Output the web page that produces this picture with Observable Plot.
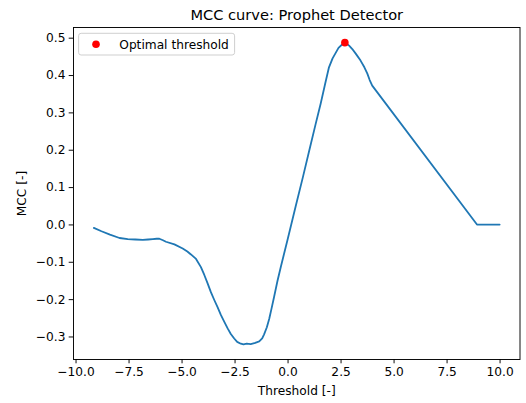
<!DOCTYPE html>
<html>
<head>
<meta charset="utf-8">
<script src="https://cdn.jsdelivr.net/npm/d3@7"></script>
<script src="https://cdn.jsdelivr.net/npm/@observablehq/plot@0.6"></script>
<style>
  html, body { margin: 0; padding: 0; background: #fff; }
  svg { display: block; }
</style>
</head>
<body>
<div id="chart"></div>
<script>
const thresholds = [
  -9.16, -8.8, -8.4, -7.95, -7.56, -7.2, -6.85, -6.6, -6.38, -6.2, -6.07, -5.9, -5.76,
  -5.36, -4.97, -4.75, -4.58, -4.34, -4.11, -3.95, -3.79, -3.64, -3.48, -3.32, -3.17,
  -3.0, -2.85, -2.7, -2.54, -2.4, -2.23, -2.1, -1.95, -1.76, -1.55, -1.36, -1.22, -1.13,
  -1.0, -0.89, -0.78, -0.66, -0.5, -0.34, -0.2, -0.03, 0.36, 0.7, 1.02, 1.3, 1.54, 1.75,
  1.93, 2.1, 2.24, 2.38, 2.55, 2.72, 2.88, 3.03, 3.2, 3.42, 3.6, 3.74, 3.85, 3.97, 8.91, 9.98
];
const mcc = [
  -0.008, -0.017, -0.026, -0.035, -0.038, -0.039, -0.040, -0.039, -0.038, -0.037, -0.037, -0.041, -0.045,
  -0.052, -0.063, -0.071, -0.079, -0.091, -0.113, -0.134, -0.157, -0.180, -0.201, -0.221, -0.241,
  -0.260, -0.277, -0.292, -0.304, -0.313, -0.318, -0.320, -0.318, -0.319, -0.316, -0.312, -0.304, -0.293,
  -0.274, -0.252, -0.224, -0.193, -0.150, -0.112, -0.080, -0.041, 0.050, 0.128, 0.204, 0.270, 0.325, 0.378,
  0.422, 0.446, 0.460, 0.474, 0.483, 0.487, 0.480, 0.471, 0.458, 0.440, 0.422, 0.405, 0.388, 0.373, 0.001, 0.001
];
const optimalThreshold = [2.68];
const optimalMcc = [0.488];
const xTicks = [-10, -7.5, -5, -2.5, 0, 2.5, 5, 7.5, 10];
const yTicks = [-0.3, -0.2, -0.1, 0.0, 0.1, 0.2, 0.3, 0.4, 0.5];
const titleText = "MCC curve: Prophet Detector";
const xLabel = "Threshold [-]";
const yLabel = "MCC [-]";
const legendLabel = "Optimal threshold";

const curve = thresholds.map((t, i) => ({t, m: mcc[i]}));
const opt = optimalThreshold.map((t, i) => ({t, m: optimalMcc[i]}));
const fmt = d3.format(".1f");

const marginLeft = 73, marginTop = 27;
const fs = 12.2;

const plot = Plot.plot({
  width: 526,
  height: 403,
  marginLeft,
  marginRight: 6.5,
  marginTop,
  marginBottom: 44,
  style: {fontFamily: "DejaVu Sans, sans-serif", fontSize: fs + "px", color: "black", background: "white"},
  x: {domain: [-10.12, 10.94]},
  y: {domain: [-0.3603, 0.5286]},
  marks: [
    Plot.line(curve, {x: "t", y: "m", stroke: "#1f77b4", strokeWidth: 1.8}),
    Plot.dot(opt, {x: "t", y: "m", r: 3.8, fill: "red", stroke: "none"}),
    Plot.frame({stroke: "black", strokeWidth: 0.95}),
    Plot.axisX({ticks: xTicks, tickFormat: fmt, tickSize: 4.3, tickPadding: 3.5, label: null, strokeWidth: 0.95}),
    Plot.axisY({ticks: yTicks, tickFormat: fmt, tickSize: 4.3, tickPadding: 3.8, label: null, strokeWidth: 0.95}),
    Plot.text([titleText], {frameAnchor: "top", dy: -12, lineAnchor: "middle", fontSize: 14.6, fill: "black"}),
    Plot.text([xLabel], {frameAnchor: "bottom", dy: 31.5, lineAnchor: "middle", fontSize: fs, fill: "black"}),
    Plot.text([yLabel], {frameAnchor: "left", dx: -51, rotate: -90, textAnchor: "middle", lineAnchor: "middle", fontSize: fs, fill: "black"})
  ]
});

// Legend (matplotlib style), positioned relative to the plot frame
const svg = d3.select(plot);
const lg = svg.append("g").attr("transform", `translate(${marginLeft + 5.6},${marginTop + 6.3})`);
lg.append("rect")
  .attr("x", 0).attr("y", 0).attr("width", 156).attr("height", 21.7)
  .attr("rx", 2.5).attr("fill", "white").attr("fill-opacity", 0.8)
  .attr("stroke", "#cccccc").attr("stroke-width", 0.95);
lg.append("circle").attr("cx", 17.4).attr("cy", 11).attr("r", 3.8).attr("fill", "red");
lg.append("text").attr("x", 40.7).attr("y", 11).attr("dy", "0.35em")
  .attr("text-anchor", "start")
  .attr("font-size", fs + "px").attr("fill", "black").text(legendLabel);

document.getElementById("chart").appendChild(plot);
</script>
</body>
</html>
